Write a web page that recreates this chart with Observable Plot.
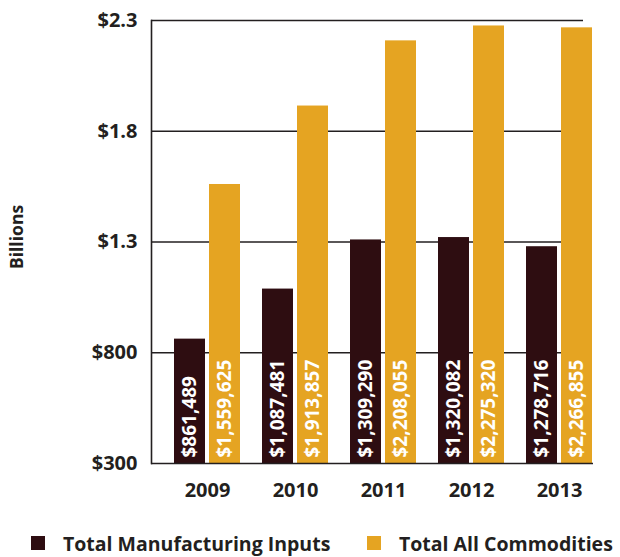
<!DOCTYPE html>
<html><head><meta charset="utf-8">
<script src="https://cdn.jsdelivr.net/npm/d3@7"></script>
<script src="https://cdn.jsdelivr.net/npm/@observablehq/plot@0.6"></script>
<style>
body{margin:0;background:#fff;font-family:"Open Sans",sans-serif;color:#231f20;}
#legend{display:flex;align-items:center;height:42px;padding-top:7px;padding-left:31px;font-weight:700;font-size:19.5px;white-space:nowrap;}
#legend .sw{width:14px;height:14px;display:inline-block;margin-right:18px;flex:none;}
#legend .item{display:flex;align-items:center;}
#legend .item:first-child{width:336px;}
</style></head><body>
<div id="chart"></div>
<div id="legend"></div>
<script>
const years = ["2009","2010","2011","2012","2013"];
const manufacturing = [861489,1087481,1309290,1320082,1278716];
const commodities = [1559625,1913857,2208055,2275320,2266855];
const seriesNames = ["Total Manufacturing Inputs","Total All Commodities"];
const seriesColors = ["#2e0d11","#e5a422"];
const yTicks = [300000,800000,1300000,1800000,2300000];
const yTickLabels = ["$300","$800","$1.3","$1.8","$2.3"];
const yLabel = "Billions";

const rows = years.map((year,i)=>({year, mfg: manufacturing[i], all: commodities[i]}));
const fmt = v => "$" + d3.format(",")(v);
const ink = "#231f20";
const base = yTicks[0];

const chart = Plot.plot({
  width: 620, height: 515,
  marginTop: 20, marginBottom: 52, marginLeft: 151, marginRight: 27,
  style: {fontFamily: "Open Sans, sans-serif", fontWeight: 700, fontSize: "19px", color: ink, background: "#fff"},
  x: {domain: years, paddingInner: 0.25, paddingOuter: 0.136, align: 0.958},
  y: {domain: [yTicks[0], yTicks[yTicks.length-1]]},
  marks: [
    Plot.ruleY(yTicks.slice(1), {stroke: ink, strokeWidth: 1.6, insetRight: 10}),
    Plot.barY(rows, {x: "year", y1: base, y2: "mfg", fill: seriesColors[0], insetRight: 35}),
    Plot.barY(rows, {x: "year", y1: base, y2: "all", fill: seriesColors[1], insetLeft: 35}),
    Plot.ruleY([base], {stroke: ink, strokeWidth: 1.6}),
    Plot.frame({anchor: "left", stroke: ink, strokeWidth: 1.6}),
    Plot.text(rows, {x: "year", y: base, text: d => fmt(d.mfg), rotate: -90, textAnchor: "start", dx: -17.5, dy: -6, fill: "#fff", fontSize: 19, fontWeight: 700}),
    Plot.text(rows, {x: "year", y: base, text: d => fmt(d.all), rotate: -90, textAnchor: "start", dx: 17.5, dy: -6, fill: "#fff", fontSize: 19, fontWeight: 700}),
    Plot.axisX({tickSize: 0, tickPadding: 19, label: null, fontSize: 20}),
    Plot.axisY({ticks: yTicks, tickFormat: d => yTickLabels[yTicks.indexOf(d)], tickSize: 0, tickPadding: 14, label: null, fontSize: 20}),
    Plot.text([yLabel], {frameAnchor: "left", textAnchor: "middle", rotate: -90, dx: -134, dy: -5, fontSize: 17.5, fontWeight: 700, fill: ink, style: "letter-spacing:0.4px"})
  ]
});
document.getElementById("chart").appendChild(chart);

const legend = document.getElementById("legend");
seriesNames.forEach((name, i) => {
  const item = document.createElement("span");
  item.className = "item";
  const sw = document.createElement("span");
  sw.className = "sw";
  sw.style.background = seriesColors[i];
  item.appendChild(sw);
  item.appendChild(document.createTextNode(name));
  legend.appendChild(item);
});
</script>
</body></html>
